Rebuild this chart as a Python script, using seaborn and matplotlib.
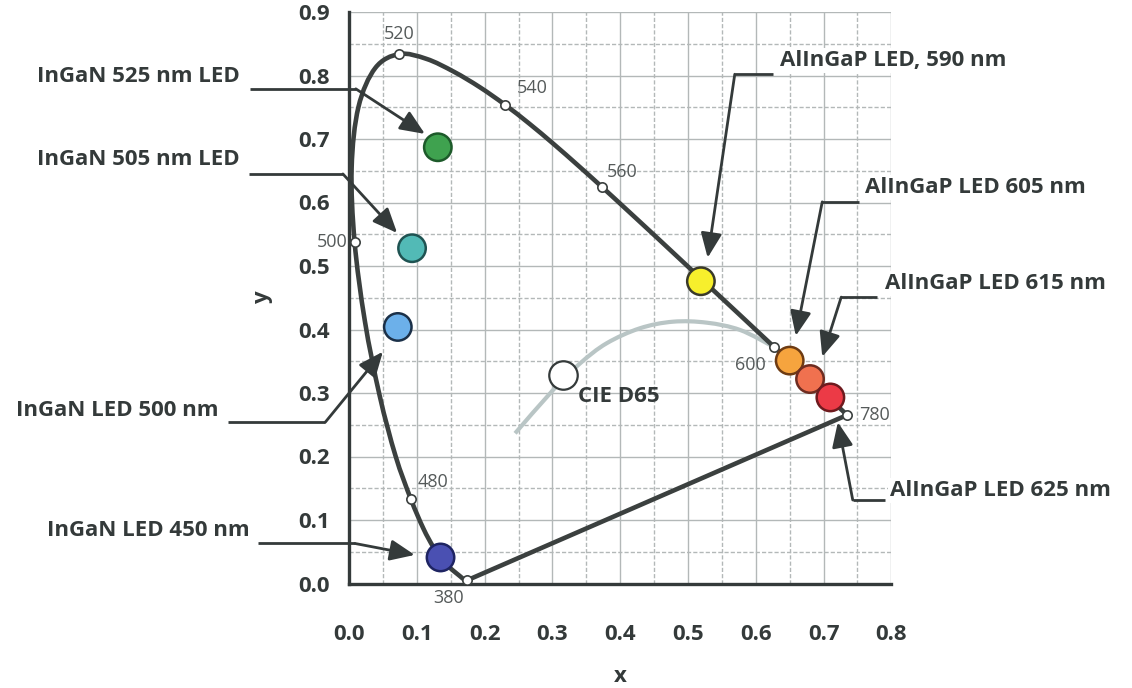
import numpy as np
import pandas as pd
import matplotlib
matplotlib.use("Agg")
import matplotlib.pyplot as plt
from matplotlib.ticker import MultipleLocator
from matplotlib.path import Path
from matplotlib.patches import PathPatch
import seaborn as sns

# ---------------- data ----------------
# CIE 1931 spectral locus (chromaticity x, y)
wavelengths = [380, 385, 390, 395, 400, 405, 410, 415, 420, 425, 430, 435, 440, 445,
               450, 455, 460, 465, 470, 475, 480, 485, 490, 495, 500, 505, 510, 515,
               520, 525, 530, 535, 540, 545, 550, 555, 560, 565, 570, 575, 580, 585,
               590, 595, 600, 605, 610, 615, 620, 625, 630, 635, 640, 645, 650, 655,
               660, 665, 670, 675, 680, 685, 690, 695, 700, 780]
locus_x = [0.1741, 0.1740, 0.1738, 0.1736, 0.1733, 0.1730, 0.1726, 0.1721, 0.1714, 0.1703,
           0.1689, 0.1669, 0.1644, 0.1611, 0.1566, 0.1510, 0.1440, 0.1355, 0.1241, 0.1096,
           0.0913, 0.0687, 0.0454, 0.0235, 0.0082, 0.0039, 0.0139, 0.0389, 0.0743, 0.1142,
           0.1547, 0.1929, 0.2296, 0.2658, 0.3016, 0.3373, 0.3731, 0.4087, 0.4441, 0.4788,
           0.5125, 0.5448, 0.5752, 0.6029, 0.6270, 0.6482, 0.6658, 0.6801, 0.6915, 0.7006,
           0.7079, 0.7140, 0.7190, 0.7230, 0.7260, 0.7283, 0.7300, 0.7311, 0.7320, 0.7327,
           0.7334, 0.7340, 0.7344, 0.7346, 0.7347, 0.7347]
locus_y = [0.0050, 0.0050, 0.0049, 0.0049, 0.0048, 0.0048, 0.0048, 0.0048, 0.0051, 0.0058,
           0.0069, 0.0086, 0.0109, 0.0138, 0.0177, 0.0227, 0.0297, 0.0399, 0.0578, 0.0868,
           0.1327, 0.2007, 0.2950, 0.4127, 0.5384, 0.6548, 0.7502, 0.8120, 0.8338, 0.8262,
           0.8059, 0.7816, 0.7543, 0.7243, 0.6923, 0.6589, 0.6245, 0.5896, 0.5547, 0.5202,
           0.4866, 0.4544, 0.4242, 0.3965, 0.3725, 0.3514, 0.3340, 0.3197, 0.3083, 0.2993,
           0.2920, 0.2859, 0.2809, 0.2770, 0.2740, 0.2717, 0.2700, 0.2689, 0.2680, 0.2673,
           0.2666, 0.2660, 0.2656, 0.2654, 0.2653, 0.2653]
marked_wavelengths = [380, 480, 500, 520, 540, 560, 600, 780]

# Planckian (black-body) locus as drawn
planck_x = [0.245, 0.301, 0.341, 0.380, 0.429, 0.478, 0.528, 0.577, 0.626]
planck_y = [0.2365, 0.3047, 0.3468, 0.3783, 0.4019, 0.4123, 0.4107, 0.3992, 0.3729]

# LEDs
led_labels = ["InGaN 525 nm LED", "InGaN 505 nm LED", "InGaN LED 500 nm", "InGaN LED 450 nm",
              "AlInGaP LED, 590 nm", "AlInGaP LED 605 nm", "AlInGaP LED 615 nm", "AlInGaP LED 625 nm"]
led_x = [0.131, 0.093, 0.072, 0.135, 0.519, 0.650, 0.680, 0.710]
led_y = [0.687, 0.528, 0.404, 0.041, 0.476, 0.351, 0.322, 0.293]
led_fill = ["#3fa24f", "#52bab6", "#6cb0ea", "#4a50b2", "#f7ef2c", "#f6a43e", "#f0714f", "#ec3a46"]
led_edge = ["#1d5a2a", "#1f5352", "#1b3048", "#1e2462", "#3a3a2a", "#6e3b12", "#6e2c20", "#6e1a1e"]

d65_label = "CIE D65"
d65_x = [0.316]
d65_y = [0.328]

x_ticks = [0.0, 0.1, 0.2, 0.3, 0.4, 0.5, 0.6, 0.7, 0.8]
y_ticks = [0.0, 0.1, 0.2, 0.3, 0.4, 0.5, 0.6, 0.7, 0.8, 0.9]

# ---------------- layout (annotation geometry, data units) ----------------
# text anchor, ha, leader start, elbow, arrow tip
ann_layout = [
    ((-0.161, 0.798), "right", (-0.146, 0.779), (0.010, 0.779), (0.112, 0.708)),
    ((-0.161, 0.667), "right", (-0.147, 0.645), (-0.009, 0.645), (0.071, 0.552)),
    ((-0.193, 0.273), "right", (-0.178, 0.254), (-0.035, 0.254), (0.050, 0.365)),
    ((-0.146, 0.084), "right", (-0.134, 0.063), (0.009, 0.063), (0.097, 0.045)),
    ((0.636, 0.824), "left", (0.625, 0.802), (0.569, 0.802), (0.529, 0.513)),
    ((0.761, 0.623), "left", (0.752, 0.601), (0.698, 0.601), (0.659, 0.390)),
    ((0.791, 0.473), "left", (0.779, 0.451), (0.726, 0.451), (0.698, 0.357)),
    ((0.798, 0.147), "left", (0.791, 0.1315), (0.743, 0.1315), (0.721, 0.254)),
]
wl_offsets = {380: (-18, -18), 480: (22, 17), 500: (-22, 0), 520: (0, 20),
              540: (28, 17), 560: (20, 15), 600: (-24, -18), 780: (27, 0)}


def smooth_path(xs, ys):
    """Smooth (Catmull-Rom style) Bezier path through the given points."""
    pts = [(xs[0], ys[0])]
    for x, y in zip(xs[1:], ys[1:]):
        if (x, y) != pts[-1]:
            pts.append((x, y))
    p = np.array(pts)
    verts = [p[0]]
    codes = [Path.MOVETO]
    n = len(p)
    for i in range(n - 1):
        p0 = p[i - 1] if i > 0 else p[i]
        p1, p2 = p[i], p[i + 1]
        p3 = p[i + 2] if i + 2 < n else p[i + 1]
        c1 = p1 + (p2 - p0) / 6.0
        c2 = p2 - (p3 - p1) / 6.0
        verts += [c1, c2, p2]
        codes += [Path.CURVE4] * 3
    return Path(np.array(verts), codes)


# ---------------- style ----------------
sns.set_theme(style="white")
FONT = ["Open Sans", "DejaVu Sans"]
plt.rcParams["font.family"] = FONT
DARK = "#343a3a"
LOCUS = "#3b403f"
LBL = 16

fig = plt.figure(figsize=(11.32, 6.88), dpi=100)
ax = fig.add_axes([349 / 1132, 1 - 583.5 / 688, (891.4 - 349) / 1132, (583.5 - 12) / 688])
ax.set_xlim(0, 0.8)
ax.set_ylim(0, 0.9)

# grid
ax.xaxis.set_major_locator(MultipleLocator(0.1))
ax.yaxis.set_major_locator(MultipleLocator(0.1))
ax.xaxis.set_minor_locator(MultipleLocator(0.05))
ax.yaxis.set_minor_locator(MultipleLocator(0.05))
ax.grid(True, which="major", color="#b3b8b8", lw=1.0, ls="-")
ax.grid(True, which="minor", color="#b3b8b8", lw=1.0, ls=(0, (3, 1.5)))
ax.set_axisbelow(True)

# spectral locus: smooth curve 380..780 plus straight purple line
locus_df = pd.DataFrame({"x": locus_x, "y": locus_y, "wl": wavelengths})
ax.add_patch(PathPatch(smooth_path(locus_x, locus_y), facecolor="none", edgecolor=LOCUS,
                       lw=3.3, zorder=3, capstyle="round", joinstyle="round"))
purple = locus_df.iloc[[-1, 0]]
sns.lineplot(data=purple, x="x", y="y", sort=False, estimator=None, color=LOCUS,
             lw=3.3, ax=ax, zorder=3, solid_capstyle="round")

# Planckian locus
ax.add_patch(PathPatch(smooth_path(planck_x, planck_y), facecolor="none", edgecolor="#b9c5c5",
                       lw=3.0, zorder=2.5, capstyle="butt"))

# wavelength markers
mk = locus_df[locus_df["wl"].isin(marked_wavelengths)]
sns.scatterplot(data=mk, x="x", y="y", s=45, color="white", edgecolor=LOCUS, linewidth=1.2,
                ax=ax, zorder=4, legend=False)
for _, r in mk.iterrows():
    dx, dy = wl_offsets[int(r["wl"])]
    ax.annotate(str(int(r["wl"])), (r["x"], r["y"]), xytext=(dx, dy), textcoords="offset pixels",
                ha="center", va="center", fontsize=13, color="#555a5a", zorder=5)

# LEDs
led_df = pd.DataFrame({"x": led_x, "y": led_y, "label": led_labels})
sns.scatterplot(data=led_df, x="x", y="y", hue="label", palette=dict(zip(led_labels, led_fill)),
                s=390, linewidth=1.8, edgecolor=led_edge, ax=ax, zorder=6, legend=False)

# D65
sns.scatterplot(x=d65_x, y=d65_y, s=420, color="white", edgecolor=DARK, linewidth=1.6,
                ax=ax, zorder=6, legend=False)
ax.text(d65_x[0] + 0.022, d65_y[0] - 0.033, d65_label, ha="left", va="center",
        fontsize=LBL, fontweight="bold", color=DARK, zorder=7)

# annotations
for label, (tpos, ha, start, elbow, tip) in zip(led_labels, ann_layout):
    ax.text(tpos[0], tpos[1], label, ha=ha, va="center", fontsize=LBL, fontweight="bold",
            color=DARK, zorder=8,
            bbox=dict(facecolor="white", edgecolor="none", pad=1.5) if ha == "left" else None)
    ax.plot([start[0], elbow[0]], [start[1], elbow[1]], color=DARK, lw=2.0, clip_on=False,
            zorder=7, solid_capstyle="butt")
    ax.annotate("", xy=tip, xytext=elbow,
                arrowprops=dict(arrowstyle="-|>,head_length=0.75,head_width=0.32",
                                mutation_scale=20, color=DARK, lw=2.0,
                                shrinkA=0, shrinkB=0), zorder=7, annotation_clip=False)

# axes styling
for s in ["top", "right"]:
    ax.spines[s].set_visible(False)
for s in ["left", "bottom"]:
    ax.spines[s].set_color(DARK)
    ax.spines[s].set_linewidth(2.4)
ax.set_xticks(x_ticks)
ax.set_yticks(y_ticks)
ax.set_xticklabels([f"{v:.1f}" for v in x_ticks])
ax.set_yticklabels([f"{v:.1f}" for v in y_ticks])
ax.tick_params(axis="both", which="major", direction="inout", length=12, width=2.0,
               color=DARK, labelcolor=DARK, labelsize=LBL)
ax.tick_params(axis="x", which="major", pad=23)
ax.tick_params(axis="y", which="major", pad=8)
ax.tick_params(which="minor", length=0)
for lab in ax.get_xticklabels() + ax.get_yticklabels():
    lab.set_fontweight("bold")
ax.set_xlabel("x", fontsize=16, fontweight="bold", color=DARK, labelpad=15)
ax.set_ylabel("y", fontsize=16, fontweight="bold", color=DARK, labelpad=18)

fig.savefig("out.png", dpi=100, facecolor="white")
